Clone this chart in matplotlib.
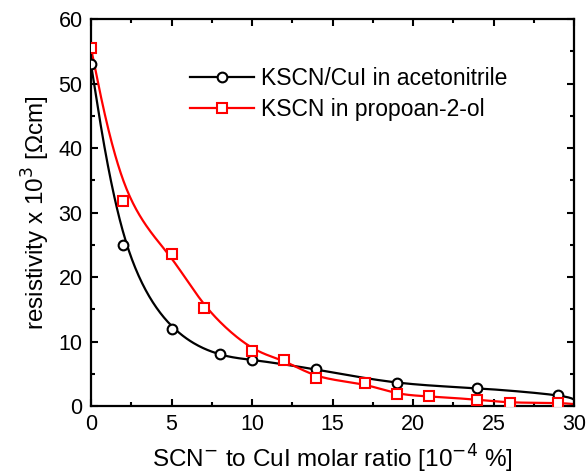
import numpy as np
import matplotlib
matplotlib.use("Agg")
import matplotlib.pyplot as plt
from matplotlib.ticker import MultipleLocator

# data (last point at x=30 lies on the right frame; drawn only as line end)
x_acn = [0, 2, 5, 8, 10, 14, 19, 24, 29, 30]
y_acn = [53.0, 25.0, 12.0, 8.0, 7.2, 5.7, 3.5, 2.8, 1.7, 1.0]
x_ipa = [0, 2, 5, 7, 10, 12, 14, 17, 19, 21, 24, 26, 29, 30]
y_ipa = [55.5, 31.8, 23.5, 15.2, 8.5, 7.2, 4.3, 3.5, 1.8, 1.5, 1.0, 0.5, 0.5, 0.3]
label_acn = "KSCN/CuI in acetonitrile"
label_ipa = "KSCN in propoan-2-ol"


def smooth_line(x, y, beta=0.7, n=40):
    """Smoothing cubic B-spline built on the data points (partially interpolating)."""
    P = np.column_stack([x, y]).astype(float)
    S = P.copy()
    S[1:-1] = (P[:-2] + 4 * P[1:-1] + P[2:]) / 6.0
    C = P + beta * (P - S)
    Q = np.vstack([C[:1], C[:1], C, C[-1:], C[-1:]])
    t = np.linspace(0, 1, n, endpoint=False)
    B = np.column_stack([(1 - t) ** 3, 3 * t ** 3 - 6 * t ** 2 + 4,
                         -3 * t ** 3 + 3 * t ** 2 + 3 * t + 1, t ** 3]) / 6.0
    pts = [B @ Q[j:j + 4] for j in range(len(Q) - 3)]
    pts.append(Q[-1:])
    pts = np.vstack(pts)
    return pts[:, 0], pts[:, 1]


plt.rcParams['font.family'] = ['Liberation Sans', 'DejaVu Sans']
fig = plt.figure(figsize=(5.87, 4.76), dpi=100)
ax = fig.add_axes([0.155, 0.147, 0.823, 0.813])

bx, by = smooth_line(x_acn, y_acn, beta=0.7)
ax.plot(bx, by, color='black', lw=1.6, zorder=2)
rx, ry = smooth_line(x_ipa, y_ipa, beta=0.2)
ax.plot(rx, ry, color='red', lw=1.6, zorder=2)
ax.plot(x_acn[:-1], y_acn[:-1], 'o', ms=7, mfc='white', mec='black', mew=1.5, zorder=3)
ax.plot(x_ipa[:-1], y_ipa[:-1], 's', ms=7, mfc='white', mec='red', mew=1.5, zorder=3)

# legend proxies
ax.plot([], [], '-o', color='black', ms=7, mfc='white', mec='black', mew=1.5, lw=1.6, label=label_acn)
ax.plot([], [], '-s', color='red', ms=7, mfc='white', mec='red', mew=1.5, lw=1.6, label=label_ipa)
ax.legend(loc='upper left', bbox_to_anchor=(0.205, 0.875), frameon=False, fontsize=16.5,
          handlelength=2.8, handletextpad=0.3, labelspacing=0.33, borderaxespad=0, borderpad=0)

ax.set_xlim(0, 30)
ax.set_ylim(0, 60)
ax.xaxis.set_major_locator(MultipleLocator(5))
ax.xaxis.set_minor_locator(MultipleLocator(2.5))
ax.yaxis.set_major_locator(MultipleLocator(10))
ax.yaxis.set_minor_locator(MultipleLocator(5))
ax.tick_params(which='both', direction='in', top=True, right=True, width=1.5, labelsize=15.5, pad=6)
ax.tick_params(which='major', length=5)
ax.tick_params(which='minor', length=3)
for s in ax.spines.values():
    s.set_linewidth(1.6)
ax.set_xlabel("SCN$^{-}$ to CuI molar ratio [10$^{-4}$ %]", fontsize=17.5, labelpad=5)
ax.set_ylabel("resistivity x 10$^{3}$ [\u03a9cm]", fontsize=17.5, labelpad=5)

fig.savefig("out.png", dpi=100)
